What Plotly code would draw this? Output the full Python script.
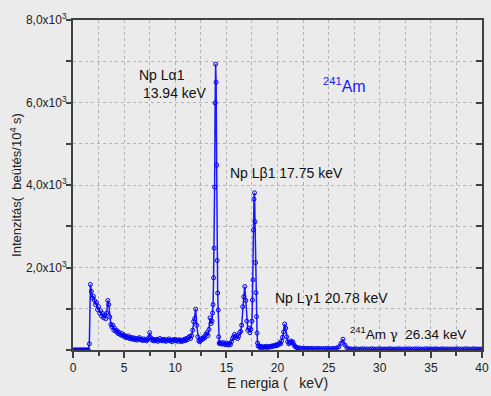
import numpy as np
import plotly.graph_objects as go

# ---- data (energy in keV, intensity in counts / 10^4 s) ----
energy_0 = np.round(np.arange(0.0, 1.41, 0.1), 2)
counts_0 = [0, 0, 0, 0, 0, 0, 0, 0, 0, 0, 0, 0, 0, 0, 0]

energy_a = np.round(np.arange(1.5, 13.61, 0.1), 2)
counts_a = [0, 150, 1590, 1420, 1260, 1300, 1200, 1100, 1150, 980,
            1050, 900, 950, 820, 880, 780, 850, 760, 900, 1200,
            1100, 800, 620, 560, 600, 480, 520, 450, 470, 400,
            430, 380, 360, 400, 340, 360, 310, 330, 300, 340,
            280, 310, 270, 300, 260, 290, 250, 280, 240, 270,
            300, 250, 260, 230, 270, 240, 250, 220, 260, 300,
            420, 300, 240, 260, 220, 250, 230, 260, 210, 240,
            280, 230, 250, 220, 260, 230, 210, 250, 230, 270,
            220, 240, 200, 250, 230, 260, 220, 240, 210, 250,
            230, 200, 240, 220, 260, 230, 280, 250, 300, 330,
            280, 350, 480, 690, 760, 990, 600, 320, 220, 200,
            240, 280, 260, 320, 300, 380, 420, 350, 500, 780,
            640, 700]

energy_b = np.round(np.arange(13.65, 14.41, 0.05), 2)
counts_b = [900, 1100, 1750, 2470, 3950, 5990, 6930, 6490, 4480, 2170,
            1380, 970, 320, 170, 150, 180]

energy_c = np.round(np.arange(14.5, 17.51, 0.1), 2)
counts_c = [160, 140, 180, 150, 130, 170, 140, 120, 160, 130,
            200, 280, 320, 380, 300, 350, 280, 330, 420, 450,
            600, 1050, 1290, 1540, 1200, 700, 480, 530, 420, 500,
            700]

energy_d = np.round(np.arange(17.55, 18.11, 0.05), 2)
counts_d = [1210, 1700, 2910, 3660, 3810, 3110, 2120, 1390, 810, 410,
            170, 100]

energy_e = np.round(np.arange(18.2, 22.01, 0.1), 2)
counts_e = [80, 60, 90, 70, 60, 80, 70, 90, 60, 80,
            70, 90, 80, 100, 90, 110, 100, 130, 110, 140,
            170, 150, 220, 310, 440, 630, 530, 320, 200, 150,
            180, 220, 180, 200, 130, 90, 70, 60, 50]

energy_f = np.round(np.arange(22.2, 40.01, 0.2), 2)
counts_f = [50, 40, 45, 35, 40, 35, 40, 30, 35, 40,
            30, 35, 30, 40, 35, 30, 40, 35, 50, 80,
            160, 260, 120, 50, 30, 25, 20, 30, 25, 20,
            25, 30, 20, 25, 20, 30, 25, 20, 25, 30,
            20, 25, 20, 25, 30, 20, 25, 20, 30, 25,
            20, 25, 20, 30, 25, 20, 25, 30, 20, 25,
            20, 25, 30, 20, 25, 20, 30, 25, 20, 25,
            30, 20, 25, 20, 25, 20, 25, 30, 20, 25,
            20, 30, 25, 20, 25, 30, 20, 25, 20, 25]

energy = np.concatenate([energy_0, energy_a, energy_b, energy_c, energy_d, energy_e, energy_f])
counts = counts_0 + counts_a + counts_b + counts_c + counts_d + counts_e + counts_f

x_ticks = [0, 5, 10, 15, 20, 25, 30, 35, 40]
y_ticks = [2000, 4000, 6000, 8000]
y_ticktext = ["2,0x10<sup>3</sup>", "4,0x10<sup>3</sup>", "6,0x10<sup>3</sup>", "8,0x10<sup>3</sup>"]

BG = "#ebebeb"
AX = "#404040"
GRID = "#b4b4b4"
FONT = "Liberation Sans, Arial, sans-serif"
GAMMA = '<span style="font-family:DejaVu Serif">γ</span>'

fig = go.Figure()
fig.add_trace(go.Scatter(
    x=energy, y=counts, mode="lines+markers",
    line=dict(color="#1a1aff", width=1.5),
    marker=dict(symbol="circle-open", size=4, color="#0000ff", line=dict(width=1)),
    showlegend=False, hoverinfo="skip"))
# invisible trace for right-hand axis with inward ticks
fig.add_trace(go.Scatter(x=[None], y=[None], yaxis="y2", showlegend=False, hoverinfo="skip"))

fig.update_layout(
    width=491, height=396,
    margin=dict(l=73, r=9, t=20, b=46),
    paper_bgcolor=BG, plot_bgcolor=BG,
    font=dict(family=FONT, size=12, color="#222"),
    xaxis=dict(
        range=[0, 40], tickvals=x_ticks, ticktext=[str(v) for v in x_ticks],
        ticks="outside", ticklen=6, tickwidth=1.5, tickcolor=AX,
        showline=True, linecolor=AX, linewidth=2, mirror=True,
        showgrid=True, gridcolor=GRID, griddash="dot", gridwidth=1,
        minor=dict(dtick=2.5, tick0=0, ticks="outside", ticklen=4, tickcolor=AX,
                   showgrid=True, gridcolor=GRID, griddash="dot", gridwidth=1),
        zeroline=False, automargin=False,
        title=dict(text="E nergia (   keV)", font=dict(size=14, color="#222"), standoff=3),
        tickfont=dict(size=12, color="#222"),
    ),
    yaxis=dict(
        range=[0, 8000], tickvals=y_ticks, ticktext=y_ticktext,
        ticks="outside", ticklen=5, tickwidth=1.5, tickcolor=AX,
        ticklabelstandoff=-3,
        showline=True, linecolor=AX, linewidth=2, mirror=True,
        showgrid=True, gridcolor=GRID, griddash="dot", gridwidth=1,
        minor=dict(dtick=1000, tick0=0, ticks="outside", ticklen=5, tickcolor=AX,
                   showgrid=True, gridcolor=GRID, griddash="dot", gridwidth=1),
        zeroline=False, automargin=False,
        title=dict(text="Intenzitás(  beütés/10<sup>4</sup> s)", font=dict(size=13, color="#222"), standoff=1),
        tickfont=dict(size=12, color="#222"),
    ),
    yaxis2=dict(
        overlaying="y", side="right", range=[0, 8000], dtick=1000,
        ticks="inside", ticklen=6, tickwidth=1.5, tickcolor=AX,
        showticklabels=False, showgrid=False, zeroline=False, showline=False,
        automargin=False,
    ),
)

ann_font = dict(family=FONT, size=14, color="#111")
fig.add_annotation(x=6.3, y=6450, xref="x", yref="y", text="Np Lα1<br> 13.94 keV",
                   showarrow=False, xanchor="left", yanchor="middle", align="left", font=ann_font)
fig.add_annotation(x=15.2, y=4290, xref="x", yref="y", text="Np Lβ1 17.75 keV",
                   showarrow=False, xanchor="left", yanchor="middle", font=ann_font)
fig.add_annotation(x=19.6, y=1260, xref="x", yref="y", text="Np L" + GAMMA + "1 20.78 keV",
                   showarrow=False, xanchor="left", yanchor="middle", font=ann_font)
fig.add_annotation(x=26.9, y=420, xref="x", yref="y",
                   text="<sup>241</sup>Am " + GAMMA + "  26.34 keV",
                   showarrow=False, xanchor="left", yanchor="middle",
                   font=dict(family=FONT, size=13.5, color="#111"))
fig.add_annotation(x=24.25, y=6420, xref="x", yref="y", text="<sup>241</sup>Am",
                   showarrow=False, xanchor="left", yanchor="middle",
                   font=dict(family=FONT, size=16, color="#1a1aff"))

fig.write_html("out.html", config={"displayModeBar": False},
               post_script="document.body.style.margin='0';document.body.style.background='#ebebeb';")
